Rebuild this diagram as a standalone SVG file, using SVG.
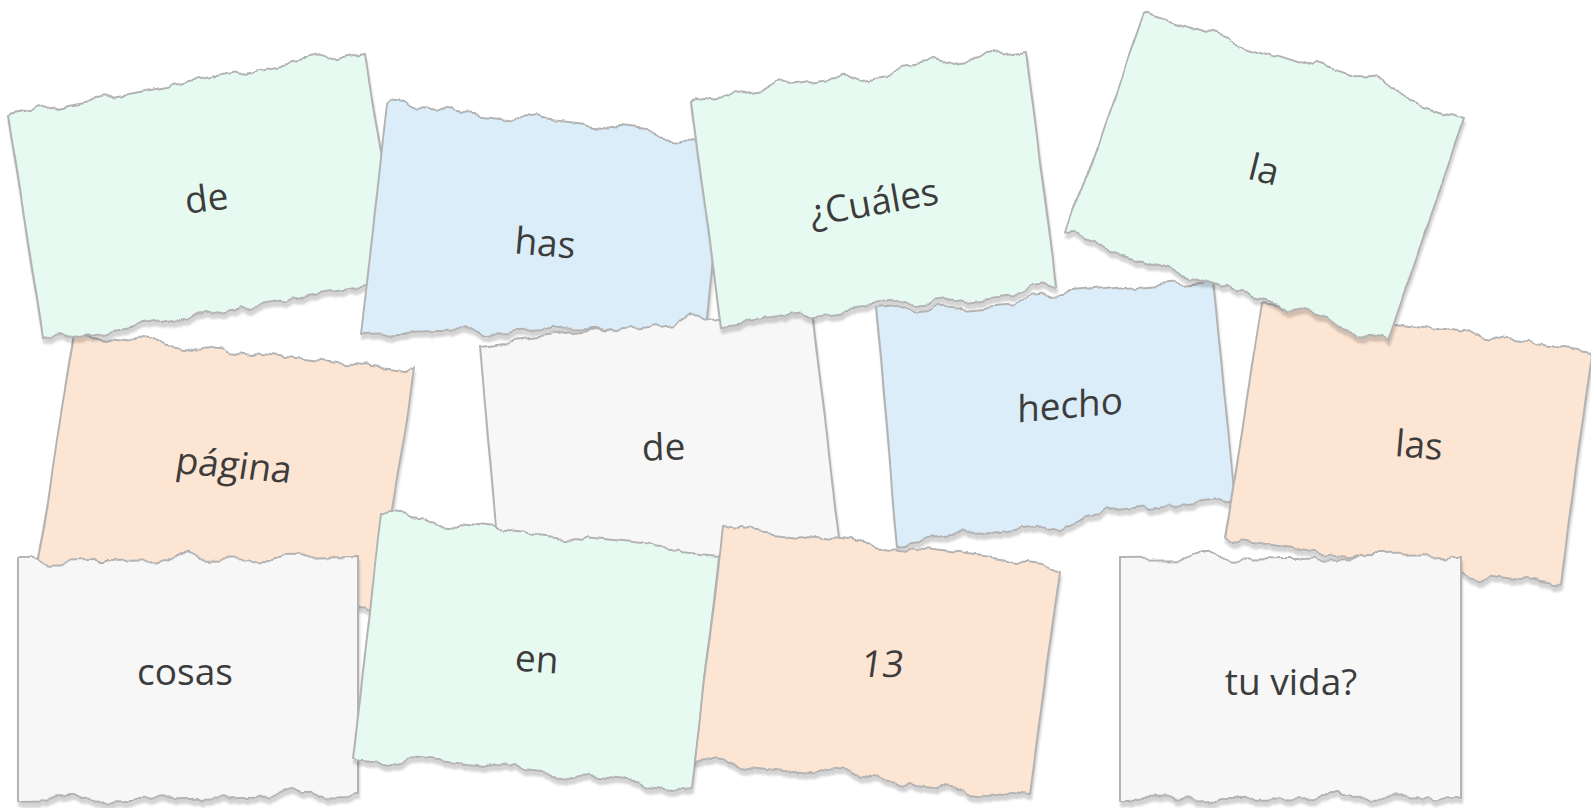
<svg xmlns="http://www.w3.org/2000/svg" width="1591" height="808" viewBox="0 0 1591 808">
<defs>
<filter id="torn" x="-6%" y="-12%" width="114%" height="130%" color-interpolation-filters="sRGB">
<feTurbulence type="fractalNoise" baseFrequency="0.022 0.005" numOctaves="4" seed="11" result="n"/>
<feColorMatrix in="n" type="matrix" values="0 0 0 0 0.5  0 1 0 0 0  0 0 0 0 0.5  0 0 0 0 1" result="m"/>
<feDisplacementMap in="SourceGraphic" in2="m" scale="28" xChannelSelector="R" yChannelSelector="G" result="d"/>
<feDropShadow in="d" dx="1" dy="5" stdDeviation="1.3" flood-color="#000" flood-opacity="0.17"/>
</filter>
</defs>
<style>
.card{stroke:#b3b3b3;stroke-width:2;stroke-linejoin:round}
.g{fill:#e7faf2}.b{fill:#daedf8}.o{fill:#fde5d3}.w{fill:#f7f7f7}
.lbl{font-family:"Open Sans","Noto Sans","DejaVu Sans",sans-serif;font-size:37px;fill:#3c3c3c;text-anchor:middle}
</style>
<rect width="1591" height="808" fill="#ffffff"/>
<g id="card-pagina"><polygon class="card o" filter="url(#torn)" points="74,332 414,372 378,609 36,571"/><text class="lbl" transform="translate(232,478) rotate(5) skewX(-4)">página</text></g>
<g id="card-de-1"><polygon class="card g" filter="url(#torn)" points="8,117 365,52 402,279 43,340"/><text class="lbl" transform="translate(208,211) rotate(-7)">de</text></g>
<g id="card-has"><polygon class="card b" filter="url(#torn)" points="387,102 725,141 706,328 361,337"/><text class="lbl" transform="translate(544,256) rotate(5)">has</text></g>
<g id="card-de-2"><polygon class="card w" filter="url(#torn)" points="480,346 812,307 840,548 501,586"/><text class="lbl" transform="translate(664,460) rotate(-2)">de</text></g>
<g id="card-cuales"><polygon class="card g" filter="url(#torn)" points="691,100 1026,49 1056,285 721,325"/><text class="lbl" transform="translate(876,215) rotate(-10)">¿Cuáles</text></g>
<g id="card-hecho"><polygon class="card b" filter="url(#torn)" points="876,312 1213,281 1235,500 897,543"/><text class="lbl" transform="translate(1070,418) rotate(-5) skewX(-5)">hecho</text></g>
<g id="card-las"><polygon class="card o" filter="url(#torn)" points="1262,303 1592,350 1561,586 1225,537"/><text class="lbl" transform="translate(1418,458) rotate(5)">las</text></g>
<g id="card-la"><polygon class="card g" filter="url(#torn)" points="1144,13 1464,115 1388,338 1065,238"/><text class="lbl" transform="translate(1261,182) rotate(14)">la</text></g>
<g id="card-cosas"><polygon class="card w" filter="url(#torn)" points="18,561 358,557 358,795 18,801"/><text class="lbl" transform="translate(185,685)">cosas</text></g>
<g id="card-en"><polygon class="card g" filter="url(#torn)" points="381,517 719,552 692,789 353,753"/><text class="lbl" transform="translate(536,672) rotate(4)">en</text></g>
<g id="card-13"><polygon class="card o" filter="url(#torn)" points="723,525 1060,565 1030,798 695,760"/><text class="lbl" transform="translate(881,677) skewX(-8)">13</text></g>
<g id="card-tu-vida"><polygon class="card w" filter="url(#torn)" points="1120,560 1461,556 1461,797 1120,800"/><text class="lbl" transform="translate(1291,695)">tu vida?</text></g>
<g id="connectors"/>
</svg>
